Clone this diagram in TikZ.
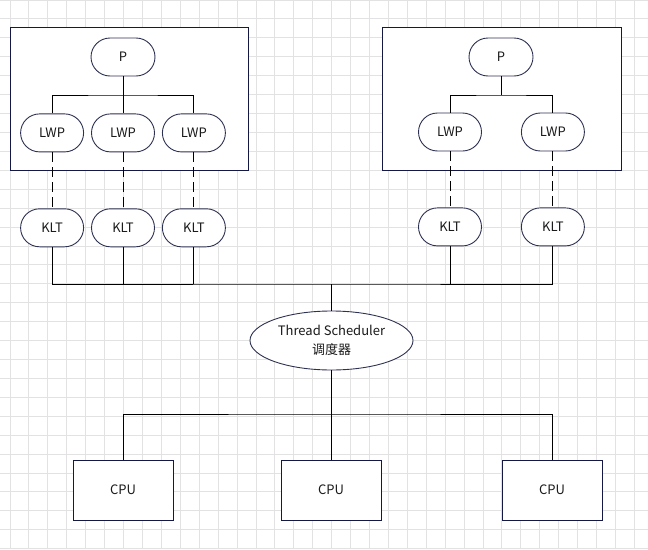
\documentclass[tikz,border=0pt]{standalone}
\usepackage{fontspec}
\setmainfont{Noto Sans CJK SC}
\usetikzlibrary{positioning,shapes.geometric}
\definecolor{boxline}{HTML}{141845}
\definecolor{pillline}{HTML}{2E3252}
\definecolor{gridgray}{HTML}{E2E2E2}
\definecolor{txt}{HTML}{1A1A1A}
\tikzset{
  group/.style  = {rectangle, draw=boxline, line width=1pt, fill=white,
                   inner sep=0pt},
  pill/.style   = {rectangle, rounded corners=19pt, draw=pillline,
                   line width=0.9pt, fill=white, minimum width=63pt,
                   minimum height=38pt, inner sep=0pt, text=txt,
                   font=\fontsize{13}{15}\selectfont},
  sched/.style  = {ellipse, draw=pillline, line width=0.9pt, fill=white,
                   minimum width=163pt, minimum height=59pt, inner sep=0pt,
                   align=center, text=txt,
                   font=\fontsize{13}{19}\selectfont},
  cpu/.style    = {rectangle, draw=boxline, line width=1pt, fill=white,
                   minimum width=100pt, minimum height=60pt, inner sep=0pt,
                   text=txt, font=\fontsize{13}{15}\selectfont},
  wire/.style   = {line width=0.9pt, draw=black},
  dwire/.style  = {wire, dash pattern=on 10pt off 5pt},
  gridline/.style = {draw=gridgray, line width=0.9pt},
}
\begin{document}
\begin{tikzpicture}[x=1pt, y=-1pt, node distance=37pt and 7pt]

\useasboundingbox[fill=white] (0,0) rectangle (648,549);

%% background grid
\foreach \i in {0,...,33}
  \draw[gridline] ({10+18.92*\i},0) -- ({10+18.92*\i},549);
\foreach \j in {0,...,29}
  \draw[gridline] (0,{18.92*\j}) -- (648,{18.92*\j});

%% process boxes
\node[group, minimum width=238pt, minimum height=143pt] (lft_box) at (129,98.5) {};
\node[group, minimum width=239pt, minimum height=143pt] (rgt_box) at (501.5,98.5) {};

%% left process
\node[pill, minimum width=64pt] (lft_p) at (123,57) {P};
\node[pill, below=of lft_p] (lft_lwp2) {LWP};
\node[pill, left=of lft_lwp2]  (lft_lwp1) {LWP};
\node[pill, right=of lft_lwp2] (lft_lwp3) {LWP};
\node[pill, below=56pt of lft_lwp1] (klt1) {KLT};
\node[pill, below=56pt of lft_lwp2] (klt2) {KLT};
\node[pill, below=56pt of lft_lwp3] (klt3) {KLT};

%% right process
\node[pill, minimum width=64pt] (rgt_p) at (501,57) {P};
\node[pill] (rgt_lwp1) at (450,132) {LWP};
\node[pill, right=39pt of rgt_lwp1] (rgt_lwp2) {LWP};
\node[pill, below=56pt of rgt_lwp1] (klt4) {KLT};
\node[pill, below=56pt of rgt_lwp2] (klt5) {KLT};

%% scheduler and cpus
\node[sched] (sched) at (331.5,340.5) {Thread Scheduler\\调度器};
\node[cpu] (cpu1) at (123,490) {CPU};
\node[cpu] (cpu2) at (331,490) {CPU};
\node[cpu] (cpu3) at (552,490) {CPU};

\coordinate (lft_br) at (123,95);
\coordinate (rgt_br) at (501,95);
\coordinate (bus)    at (331,284);
\coordinate (cbus)   at (331,414);

%% P -> LWP
\draw[wire] (lft_p) -- (lft_lwp2);
\draw[wire] (lft_lwp1.north) |- (lft_br) -| (lft_lwp3.north);
\draw[wire] (rgt_p.south) -- (rgt_br);
\draw[wire] (rgt_lwp1.north) |- (rgt_br) -| (rgt_lwp2.north);

%% LWP -- KLT
\draw[dwire] (lft_lwp1) -- (klt1);
\draw[dwire] (lft_lwp2) -- (klt2);
\draw[dwire] (lft_lwp3) -- (klt3);
\draw[dwire] (rgt_lwp1) -- (klt4);
\draw[dwire] (rgt_lwp2) -- (klt5);

%% KLT -> scheduler
\draw[wire] (klt1.south) |- (bus) -| (klt5.south);
\draw[wire] (klt2.south) -- (klt2 |- bus);
\draw[wire] (klt3.south) -- (klt3 |- bus);
\draw[wire] (klt4.south) -- (klt4 |- bus);
\draw[wire] (bus) -- (sched.north -| bus);

%% scheduler -> CPU
\draw[wire] (sched.south -| cbus) -- (cbus);
\draw[wire] (cpu1.north) |- (cbus) -| (cpu3.north);
\draw[wire] (cpu2) -- (cbus);

\end{tikzpicture}
\end{document}
